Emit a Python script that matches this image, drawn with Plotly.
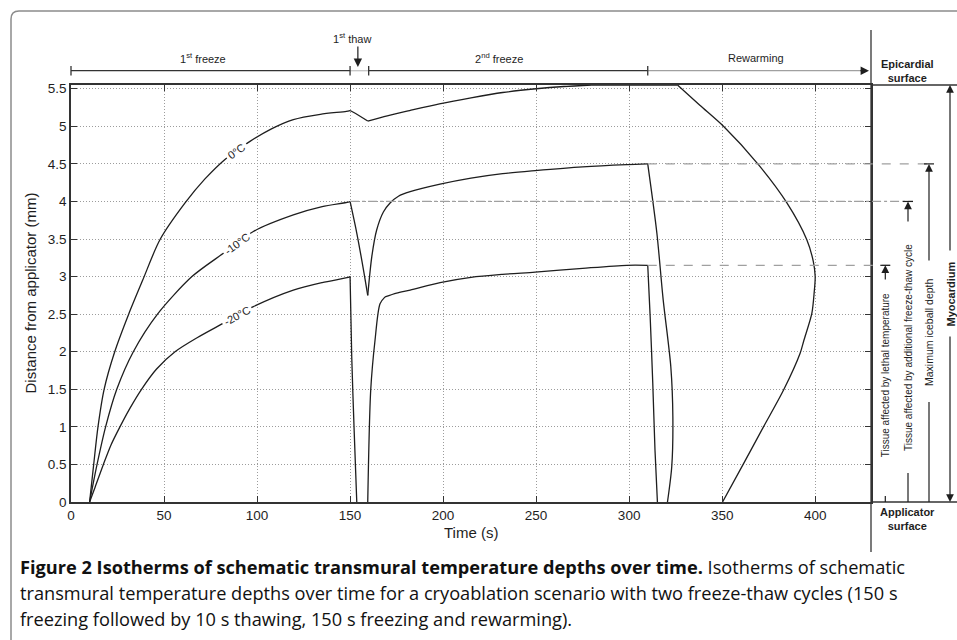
import numpy as np
import plotly.graph_objects as go

# ---------------- data ----------------
t_0C = [10, 12.2, 14.5, 17.8, 23.5, 31, 38.5, 47.8, 61.3, 72, 83.7, 96.2, 108, 119.5, 134, 148, 150,
        153, 159.5, 170, 182, 198, 215, 232, 250, 265, 280, 326, 338, 350.7, 369.5, 384.8, 395.5, 399,
        400, 399.5, 398.2, 393.9, 391.9, 383, 372.2, 361.5, 350.2]
d_0C = [0, 0.5, 1.0, 1.5, 2.0, 2.5, 2.95, 3.49, 3.98, 4.3, 4.58, 4.80, 4.97, 5.09, 5.16, 5.20, 5.21,
        5.17, 5.07, 5.14, 5.21, 5.30, 5.38, 5.45, 5.50, 5.53, 5.55, 5.55, 5.28, 5.0, 4.49, 3.98, 3.49, 3.2,
        3.0, 2.8, 2.51, 2.15, 1.98, 1.49, 1.0, 0.51, 0]

t_10C = [10, 14, 18.6, 24.6, 33.5, 46.5, 65, 81.9, 98, 119.5, 135, 149, 150, 153.6, 157.2, 159.5, 161.7,
         164.3, 167.9, 171.5, 176, 182.3, 198.4, 215, 232, 249.5, 275, 298.7, 310, 314.9, 318.3, 322.4,
         323.5, 322.9, 320.6]
d_10C = [0, 0.5, 1.0, 1.5, 2.0, 2.5, 3.0, 3.31, 3.6, 3.82, 3.93, 3.99, 4.0, 3.58, 3.09, 2.75, 3.27,
         3.62, 3.86, 3.98, 4.07, 4.13, 4.23, 4.31, 4.37, 4.41, 4.46, 4.49, 4.5, 3.58, 2.69, 1.80,
         1.13, 0.47, 0]

t_20C = [10, 13, 17.4, 21.5, 26.3, 31.5, 37.9, 46, 55.9, 68, 81.9, 98, 119.5, 135, 149, 150, 150.9, 152.2,
         153.6, None, 159.5, 161.1, 163.4, 166.1, 168.8, 175, 182.3, 198.4, 215, 232, 249.5, 275, 298.7,
         310, 311.3, 312.7, 313.9, 315.2]
d_20C = [0, 0.2, 0.5, 0.76, 1.0, 1.24, 1.5, 1.77, 2.0, 2.19, 2.38, 2.6, 2.82, 2.92, 2.99, 3.0, 1.93, 0.95,
         0, None, 0, 1.49, 2.15, 2.64, 2.73, 2.78, 2.82, 2.92, 2.99, 3.03, 3.06, 3.11, 3.15,
         3.15, 2.47, 1.58, 0.69, 0]

# corner points (index into each list) where the curve has a kink; smooth pieces between them
corners_0C = [16, 18, 26, 27]
corners_10C = [12, 15, 28]
corners_20C = [15, 18, 20, 24, 33]

isotherm_names = ["0°C", "-10°C", "-20°C"]
label_t = [89, 89, 89]

phase_edges = [0, 150, 160, 310]
phase_labels = ["1<sup>st</sup> freeze", "1<sup>st</sup> thaw", "2<sup>nd</sup> freeze", "Rewarming"]

x_ticks = [0, 50, 100, 150, 200, 250, 300, 350, 400]
y_ticks = [0, 0.5, 1, 1.5, 2, 2.5, 3, 3.5, 4, 4.5, 5, 5.5]

caption_lines = [
    "<b>Figure 2 Isotherms of schematic transmural temperature depths over time.</b> Isotherms of schematic",
    "transmural temperature depths over time for a cryoablation scenario with two freeze-thaw cycles (150 s",
    "freezing followed by 10 s thawing, 150 s freezing and rewarming).",
]

# ---------------- layout geometry ----------------
W, H = 957, 640
L, R, T, B = 71, 86, 85, 138
PW, PH = W - L - R, H - T - B
XMAX, YMAX = 430, 5.55
B_PX = H - B


def X(px):
    return (px - L) / PW


def Y(py):
    return (B_PX - py) / PH


def XD(t):
    return t / XMAX


def YD(d):
    return d / YMAX


INK = "#1e1e1e"
AX = "#333333"
GRAY = "#a0a0a0"
FONT = "Liberation Sans"

fig = go.Figure()


def add_curve(t, d, corners):
    bounds = [0] + corners + [len(t) - 1]
    for a, b in zip(bounds[:-1], bounds[1:]):
        seg_t = t[a:b + 1]
        seg_d = d[a:b + 1]
        if any(v is None for v in seg_t):
            continue
        shape = "spline" if len(seg_t) > 3 else "linear"
        fig.add_trace(go.Scatter(x=seg_t, y=seg_d, mode="lines",
                                 line=dict(color=INK, width=1.3, shape=shape, smoothing=0.8),
                                 hoverinfo="skip", showlegend=False))


add_curve(t_0C, d_0C, corners_0C)
add_curve(t_10C, d_10C, corners_10C)
add_curve(t_20C, d_20C, corners_20C)

shapes = []
annotations = []


def txt(x, y, text, size, angle=0, **kw):
    d = dict(xref="paper", yref="paper", x=x, y=y, text=text, showarrow=False, textangle=angle,
             xanchor="center", yanchor="middle", font=dict(size=size, color=INK, family=FONT))
    d.update(kw)
    annotations.append(d)


def arrow(x, y, ax, ay, size=1.3):
    annotations.append(dict(xref="paper", yref="paper", x=x, y=y, ax=ax, ay=ay, text="",
                            showarrow=True, arrowhead=2, arrowsize=size, arrowwidth=1.2,
                            arrowcolor=INK))


def pline(x0, x1, y0, y1, color=INK, width=1.2, dash="solid"):
    shapes.append(dict(type="line", xref="paper", yref="paper", x0=x0, x1=x1, y0=y0, y1=y1,
                       line=dict(color=color, width=width, dash=dash)))


# card frame (rounded top-left corner)
r = 8
shapes.append(dict(type="path", xref="paper", yref="paper",
                   path=f"M {X(11)},{Y(660)} L {X(11)},{Y(11 + r)} Q {X(11)},{Y(11)} {X(11 + r)},{Y(11)} L {X(970)},{Y(11)}",
                   line=dict(color="#8c8c8c", width=1.5)))

# divider + extensions of top / bottom border
pline(1, 1, Y(30), Y(552), AX, 1.3)
for yy in (0, 1):
    pline(1, X(957), yy, yy, AX, 1.5)

# derived levels
seg1 = [i for i, t in enumerate(t_10C) if t <= 150]
lvl_10_first = max(d_10C[i] for i in seg1)
lvl_10_max = max(d_10C)
i20 = t_20C.index(None)
lvl_20_second = max(d_20C[i20 + 1:])
t_end2 = phase_edges[3]

# dashed helper lines to the right panel
pline(XD(t_end2), X(934), YD(lvl_10_max), YD(lvl_10_max), GRAY, 1.2, "dash")
pline(XD(phase_edges[1]), X(913), YD(lvl_10_first), YD(lvl_10_first), GRAY, 1.2, "dashdot")
pline(XD(t_end2), X(890), YD(lvl_20_second), YD(lvl_20_second), GRAY, 1.2, "dash")

# right panel arrows
panel = [
    # x_px, level, tail_py, text, text_center_py, bottom_line_top_py, size
    (885.3, lvl_20_second, 281, "Tissue affected by lethal temperature", 375, 496, 10),
    (908, lvl_10_first, 223, "Tissue affected by additional freeze-thaw cycle", 347, 473, 10),
    (929, lvl_10_max, 262, "Maximum iceball depth", 332, 402, 10.5),
]
for xp, lvl, tail, label, tc, btop, fs in panel:
    head_py = B_PX - YD(lvl) * PH
    pline(X(xp - 5), X(xp + 5), YD(lvl), YD(lvl))
    arrow(X(xp), YD(lvl), 0, tail - head_py)
    pline(X(xp), X(xp), Y(btop), 0)
    txt(X(xp), Y(tc), label, fs, -90)

# Myocardium double arrow
arrow(X(950), 1, 0, 252 - T)
arrow(X(950), 0, 0, 335 - B_PX)
txt(X(950), Y(293.5), "<b>Myocardium</b>", 11, -90)
txt(X(908), Y(71.5), "<b>Epicardial<br>surface</b>", 11)
txt(X(908), Y(519), "<b>Applicator<br>surface</b>", 11)

# top timeline
TL = Y(70.7)
pline(XD(phase_edges[0]), XD(phase_edges[1]), TL, TL, AX, 1.3)
pline(XD(phase_edges[1]), XD(phase_edges[2]), TL, TL, "#c4c4c4", 1.3)
pline(XD(phase_edges[2]), XD(phase_edges[3]), TL, TL, AX, 1.3)
pline(XD(phase_edges[3]), X(862), TL, TL, GRAY, 1.3)
for te in phase_edges:
    pline(XD(te), XD(te), Y(66), Y(75.5), AX, 1.3)
arrow(X(869), TL, -10, 0, 1.4)
thaw_mid = (phase_edges[1] + phase_edges[2]) / 2
arrow(XD(thaw_mid) - 1.5 / PW, Y(67), 0, -22, 1.4)
label_x_px = [203, 352, 499, 756]
label_y_px = [58, 38, 58, 58]
for lab, lx, ly in zip(phase_labels, label_x_px, label_y_px):
    txt(X(lx), Y(ly), lab, 11)

# isotherm labels (placed on the curves, rotated along them)
pxs = PW / XMAX
pys = PH / YMAX
for name, lt, (t, d) in zip(isotherm_names, label_t, [(t_0C, d_0C), (t_10C, d_10C), (t_20C, d_20C)]):
    n = next(i for i, v in enumerate(t) if v is not None and v >= 150)
    tt = np.array(t[:n + 1], float)
    dd = np.array(d[:n + 1], float)
    ly = float(np.interp(lt, tt, dd))
    slope = (np.interp(lt + 6, tt, dd) - np.interp(lt - 6, tt, dd)) / 12.0
    ang = -np.degrees(np.arctan(slope * pys / pxs))
    annotations.append(dict(x=lt, y=ly, xref="x", yref="y", text=name, showarrow=False, textangle=ang,
                            xanchor="center", yanchor="middle", bgcolor="white", borderpad=2,
                            font=dict(size=11, color=INK, family=FONT)))

# axis titles
txt(X(30), Y(293.5), "Distance from applicator (mm)", 15, -90)
txt(X(471), Y(532), "Time (s)", 15)

# caption
for line, cy in zip(caption_lines, [567, 593, 619]):
    annotations.append(dict(xref="paper", yref="paper", x=X(18), y=Y(cy), xanchor="left", yanchor="middle",
                            text=line, showarrow=False, align="left",
                            font=dict(size=18.2, color="#111111", family="Open Sans")))

axis_common = dict(showline=True, linecolor=AX, linewidth=1.5, mirror="ticks", ticks="inside", ticklen=6,
                   tickcolor=AX, tickwidth=1, showgrid=True, gridcolor="#9c9c9c", griddash="1px,2px",
                   gridwidth=1, zeroline=False, tickfont=dict(size=13.5, color=INK, family=FONT))

fig.update_layout(
    width=W, height=H, margin=dict(l=L, r=R, t=T, b=B, autoexpand=False),
    paper_bgcolor="white", plot_bgcolor="white",
    font=dict(family=FONT, color=INK),
    xaxis=dict(range=[0, XMAX], tickvals=x_ticks, **axis_common),
    yaxis=dict(range=[0, YMAX], tickvals=y_ticks, ticktext=[f"{v:g}" for v in y_ticks], **axis_common),
    shapes=shapes, annotations=annotations, showlegend=False,
)

fig.write_html("out.html", config={"displayModeBar": False},
               post_script="document.body.style.margin='0';document.body.style.overflow='hidden';")
